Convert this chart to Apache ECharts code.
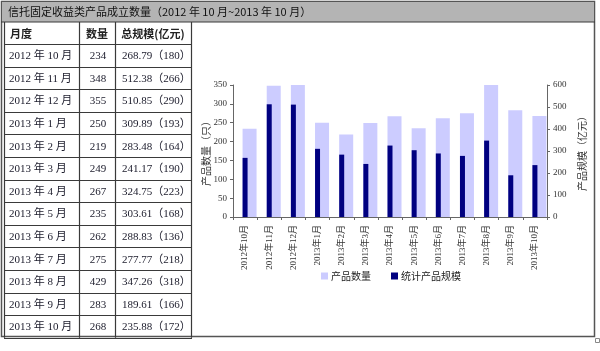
<!DOCTYPE html>
<html><head><meta charset="utf-8">
<script src="https://cdn.jsdelivr.net/npm/echarts@6/dist/echarts.min.js"></script>
<style>html,body{margin:0;padding:0;background:#fff}#c{width:600px;height:351px}</style>
</head><body><div id="c"></div>
<script>
var titleText = '信托固定收益类产品成立数量（2012 年 10 月~2013 年 10 月）';
var headers = ['月度', '数量', '总规模(亿元)'];
var tableMonths = ['2012 年 10 月','2012 年 11 月','2012 年 12 月','2013 年 1 月','2013 年 2 月','2013 年 3 月','2013 年 4 月','2013 年 5 月','2013 年 6 月','2013 年 7 月','2013 年 8 月','2013 年 9 月','2013 年 10 月'];
var categories = ['2012年10月','2012年11月','2012年12月','2013年1月','2013年2月','2013年3月','2013年4月','2013年5月','2013年6月','2013年7月','2013年8月','2013年9月','2013年10月'];
var counts = [234, 348, 355, 250, 219, 249, 267, 235, 262, 275, 429, 283, 268];
var totals = [268.79, 512.38, 510.85, 309.89, 283.48, 241.17, 324.75, 303.61, 288.83, 277.77, 347.26, 189.61, 235.88];
var totalsParen = [180, 266, 290, 193, 164, 190, 223, 168, 136, 218, 318, 166, 172];
var seriesNames = ['产品数量', '统计产品规模'];
var leftAxisName = '产品数量（只）';
var rightAxisName = '产品规模（亿元）';

var chart = echarts.init(document.getElementById('c'));
var serif = '"Liberation Serif","Noto Sans CJK SC",serif';
var sans = '"Noto Sans CJK SC",sans-serif';
var lineColor = '#3a3a3a';
var g = [];
// outer frame and title bar
g.push({type:'rect', shape:{x:1.5,y:1.5,width:593,height:335}, style:{fill:'#fff', stroke:'#555', lineWidth:1.5}, z:0});
g.push({type:'rect', shape:{x:2,y:2,width:592,height:20}, style:{fill:'#b4b4b4', stroke:null}, z:1});
g.push({type:'line', shape:{x1:1,y1:22,x2:595,y2:22}, style:{stroke:lineColor, lineWidth:1}, z:2});
g.push({type:'text', x:8, y:12, style:{text:titleText, font:'11px ' + sans, fill:'#111', verticalAlign:'middle'}, z:3});
g.push({type:'rect', shape:{x:595.5,y:338.5,width:4,height:4}, style:{fill:'#fff', stroke:'#888', lineWidth:1}, z:2});
// table
var colX = [4, 79, 115, 191];
var top0 = 22, headH = 22, rowH = 22.6;
var nRows = tableMonths.length;
var bottom = top0 + headH + rowH * nRows;
colX.forEach(function(x){
  g.push({type:'line', shape:{x1:x+0.5,y1:top0,x2:x+0.5,y2:bottom}, style:{stroke:lineColor, lineWidth:1.2}, z:2});
});
for (var r = 0; r <= nRows; r++) {
  var y = top0 + headH + rowH * r;
  g.push({type:'line', shape:{x1:colX[0],y1:Math.round(y)+0.5,x2:colX[3]+1,y2:Math.round(y)+0.5}, style:{stroke:lineColor, lineWidth:1.2}, z:2});
}
g.push({type:'text', x:10, y:top0+headH/2+1, style:{text:headers[0], font:'bold 11px ' + sans, fill:'#222', verticalAlign:'middle'}, z:3});
g.push({type:'text', x:(colX[1]+colX[2])/2, y:top0+headH/2+1, style:{text:headers[1], font:'bold 11px ' + sans, fill:'#222', verticalAlign:'middle', align:'center'}, z:3});
g.push({type:'text', x:(colX[2]+colX[3])/2, y:top0+headH/2+1, style:{text:headers[2], font:'bold 11px ' + sans, fill:'#222', verticalAlign:'middle', align:'center'}, z:3});
for (var i = 0; i < nRows; i++) {
  var cy = top0 + headH + rowH * i + rowH / 2 + 1;
  g.push({type:'text', x:9, y:cy, style:{text:tableMonths[i], font:'11px ' + serif, fill:'#1a1a2a', verticalAlign:'middle'}, z:3});
  g.push({type:'text', x:(colX[1]+colX[2])/2+1, y:cy, style:{text:String(counts[i]), font:'11px ' + serif, fill:'#1a1a2a', verticalAlign:'middle', align:'center'}, z:3});
  g.push({type:'text', x:122, y:cy, style:{text:totals[i].toFixed(2) + '（' + totalsParen[i] + '）', font:'11px ' + serif, fill:'#1a1a2a', verticalAlign:'middle'}, z:3});
}

chart.setOption({
  animation: false,
  graphic: {elements: g},
  grid: {left: 233, right: 53, top: 85, bottom: 134, containLabel: false},
  legend: {
    data: seriesNames, left: 316, top: 266, itemWidth: 7, itemHeight: 7, itemGap: 20, icon: 'rect',
    textStyle: {fontSize: 10, color: '#222', fontFamily: sans, padding:[0,0,0,-2]}
  },
  xAxis: {
    type: 'category', data: categories,
    axisLine: {lineStyle: {color: '#666'}},
    axisTick: {show: true, length: 3, lineStyle: {color: '#666'}},
    axisLabel: {rotate: 90, fontSize: 9, color: '#333', fontFamily: serif, margin: 8, interval: 0}
  },
  yAxis: [{
    type: 'value', min: 0, max: 350, interval: 50,
    name: leftAxisName, nameLocation: 'middle', nameRotate: 90, nameGap: 22, nameMoveOverlap: false,
    nameTextStyle: {fontSize: 10, color: '#333', fontFamily: sans},
    axisLine: {show: true, lineStyle: {color: '#666'}},
    axisTick: {show: true, length: 3, lineStyle: {color: '#666'}},
    splitLine: {show: false},
    axisLabel: {fontSize: 9, color: '#333', fontFamily: serif, margin: 6}
  }, {
    type: 'value', min: 0, max: 600, interval: 100,
    name: rightAxisName, nameLocation: 'middle', nameRotate: 90, nameGap: 30, nameMoveOverlap: false,
    nameTextStyle: {fontSize: 10, color: '#333', fontFamily: sans},
    axisLine: {show: true, lineStyle: {color: '#666'}},
    axisTick: {show: true, length: 3, lineStyle: {color: '#666'}},
    splitLine: {show: false},
    axisLabel: {fontSize: 9, color: '#333', fontFamily: serif, margin: 6}
  }],
  series: [{
    name: seriesNames[0], type: 'bar', data: counts, yAxisIndex: 0,
    barWidth: 14, barGap: '-100%', clip: true,
    itemStyle: {color: '#ccccff'}
  }, {
    name: seriesNames[1], type: 'bar', data: totals, yAxisIndex: 1,
    barWidth: 5, clip: true,
    itemStyle: {color: '#000080'}
  }]
});
</script></body></html>
